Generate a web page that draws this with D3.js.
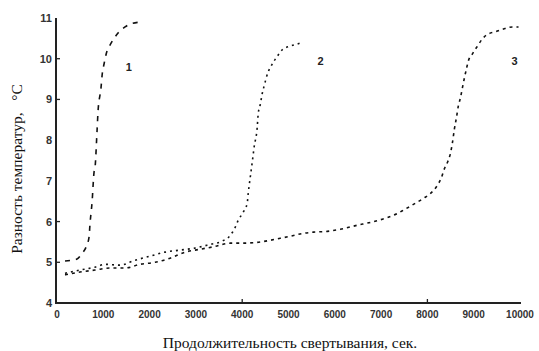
<!DOCTYPE html>
<html><head><meta charset="utf-8">
<script src="https://cdn.jsdelivr.net/npm/d3@7"></script>
<style>body{margin:0;background:#fff}svg{display:block}</style>
</head><body><svg id="c" width="539" height="351"></svg>
<script>
const xTicks = [0,1000,2000,3000,4000,5000,6000,7000,8000,9000,10000];
const yTicks = [4,5,6,7,8,9,10,11];
const xTickMarks = [4000,8000];
const yTickMarks = [5,6,9,10];
const curveLabels = ["1","2","3"];

const t1 = [173,324,432,541,627,692,714,757,800,822,865,886,951,973,1016,1081,1124,1319,1470,1578,1795];
const v1 = [5.03,5.05,5.08,5.22,5.37,5.62,5.96,6.47,7.21,7.33,8.23,8.70,9.29,9.58,9.87,10.19,10.29,10.63,10.78,10.85,10.90];

const t2 = [173,497,822,1038,1362,1686,2011,2335,2659,2984,3308,3568,3741,3849,3914,4022,4108,4130,4173,4216,4259,4324,4346,4389,4432,4476,4562,4605,4692,4778,4865,5038,5189,5319];
const v2 = [4.73,4.81,4.88,4.95,4.93,5.05,5.15,5.25,5.30,5.35,5.44,5.52,5.66,5.86,6.03,6.23,6.45,6.69,7.08,7.45,7.84,8.31,8.65,8.87,9.14,9.34,9.68,9.78,9.95,10.09,10.22,10.31,10.36,10.41];

const t3 = [173,497,822,1146,1470,1795,2119,2443,2768,3092,3416,3741,4000,4324,4605,4822,5038,5319,5535,5838,6119,6486,6768,7135,7351,7481,7741,7914,8065,8216,8303,8368,8432,8497,8541,8584,8627,8670,8714,8757,8800,8843,8886,8973,9081,9189,9319,9470,9643,9838,9968];
const v3 = [4.69,4.76,4.81,4.86,4.86,4.95,5.00,5.10,5.25,5.32,5.39,5.47,5.47,5.49,5.54,5.59,5.64,5.71,5.74,5.76,5.81,5.91,5.98,6.10,6.20,6.28,6.45,6.57,6.69,6.89,7.08,7.30,7.45,7.67,7.94,8.28,8.55,8.85,9.04,9.29,9.53,9.75,9.95,10.12,10.31,10.49,10.61,10.66,10.73,10.78,10.78];

const labelPos = [[1550,9.8],[5690,9.95],[9880,9.95]];

const svg = d3.select("#c");
const x = d3.scaleLinear().domain([0,10000]).range([57,520]);
const y = d3.scaleLinear().domain([4,11]).range([303,18]);

// axes lines
svg.append("line").attr("x1",56).attr("x2",56).attr("y1",y(11)).attr("y2",y(4)+1).attr("stroke","#222").attr("stroke-width",2);
svg.append("line").attr("x1",55).attr("x2",x(10000)+1).attr("y1",y(4)).attr("y2",y(4)).attr("stroke","#222").attr("stroke-width",2);

// y ticks
const ya = svg.append("g");
yTickMarks.forEach(v=>ya.append("line").attr("x1",56).attr("x2",60).attr("y1",y(v)).attr("y2",y(v)).attr("stroke","#222").attr("stroke-width",1.3));
ya.selectAll("text").data(yTicks).join("text")
  .attr("x",52).attr("y",d=>y(d)).attr("dy","0.36em").attr("text-anchor","end")
  .attr("font-family","Liberation Sans, Arial, sans-serif").attr("font-size",11).attr("font-weight","bold").attr("fill","#333")
  .text(d=>d);

// x ticks
const xa = svg.append("g");
xTickMarks.forEach(v=>xa.append("line").attr("x1",x(v)).attr("x2",x(v)).attr("y1",y(4)).attr("y2",y(4)-4).attr("stroke","#222").attr("stroke-width",1.3));
xa.selectAll("text").data(xTicks).join("text")
  .attr("x",d=>x(d)).attr("y",318).attr("text-anchor","middle")
  .attr("font-family","Liberation Sans, Arial, sans-serif").attr("font-size",10).attr("font-weight","bold").attr("fill","#333")
  .text(d=>d);

// curves
const line = d3.line().x(d=>x(d[0])).y(d=>y(d[1])).curve(d3.curveMonotoneX);
const series = [
  {t:t1,v:v1,dash:"5,6"},
  {t:t2,v:v2,dash:"2,4"},
  {t:t3,v:v3,dash:"3,4"}
];
series.forEach(s=>{
  svg.append("path").attr("d",line(s.t.map((t,i)=>[t,s.v[i]])))
    .attr("fill","none").attr("stroke","#111").attr("stroke-width",1.6).attr("stroke-dasharray",s.dash);
});

// curve labels
curveLabels.forEach((l,i)=>{
  svg.append("text").attr("x",x(labelPos[i][0])).attr("y",y(labelPos[i][1])).attr("dy","0.36em")
    .attr("text-anchor","middle").attr("font-family","Liberation Sans, Arial, sans-serif")
    .attr("font-size",11).attr("font-weight","bold").attr("fill","#222").text(l);
});

// axis titles
svg.append("text").attr("transform","translate(22,169) rotate(-90)").attr("text-anchor","middle")
  .attr("font-family","Liberation Serif, Times New Roman, serif").attr("font-size",15.5).attr("fill","#111")
  .attr("xml:space","preserve").style("white-space","pre")
  .text("Разность температур,   °C");
svg.append("text").attr("x",290).attr("y",348).attr("text-anchor","middle")
  .attr("font-family","Liberation Serif, Times New Roman, serif").attr("font-size",15.5).attr("fill","#111")
  .text("Продолжительность свертывания, сек.");
</script></body></html>
